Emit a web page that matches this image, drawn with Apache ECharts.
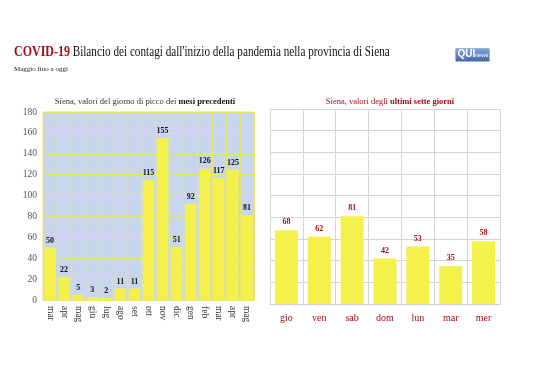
<!DOCTYPE html>
<html>
<head>
<meta charset="utf-8">
<script src="https://cdn.jsdelivr.net/npm/echarts@6/dist/echarts.min.js"></script>
<style>html,body{margin:0;padding:0;background:#fff;}#c{width:538px;height:380px;}</style>
</head>
<body>
<div id="c"></div>
<script>
var monthLabels = ["mar","apr","mag","giu","lug","ago","set","ott","nov","dic","gen","feb","mar","apr","mag"];
var monthValues = [50,22,5,3,2,11,11,115,155,51,92,126,117,125,81];
var dayLabels = ["gio","ven","sab","dom","lun","mar","mer"];
var dayValues = [68,62,81,42,53,35,58];
var yTicks = {min:0, max:180, interval:20};

var serif = "'Liberation Serif', 'DejaVu Serif', serif";
var red = '#a50d12';
var yellow = '#f4f04c';
var ygrid = '#e9e46a';

var monthKeys = monthLabels.map(function(m,i){return m+'#'+i;});

var chart = echarts.init(document.getElementById('c'), null, {renderer:'canvas'});
chart.setOption({
  animation:false,
  backgroundColor:'#fff',
  title:[
    {text:'Maggio fino a oggi', left:9, top:61, textStyle:{fontFamily:serif,fontSize:7,fontWeight:'normal',color:'#222'}},
    {text:'Siena, valori del giorno di picco dei {b|mesi precedenti}', left:140, top:92, textAlign:'center',
     textStyle:{fontFamily:serif,fontSize:8.5,fontWeight:'normal',color:'#333',
       rich:{b:{fontFamily:serif,fontSize:8.5,fontWeight:'bold',color:'#111'}}}},
    {text:'Siena, valori degli {b|ultimi sette giorni}', left:385, top:92, textAlign:'center',
     textStyle:{fontFamily:serif,fontSize:8.5,fontWeight:'normal',color:red,
       rich:{b:{fontFamily:serif,fontSize:8.5,fontWeight:'bold',color:red}}}}
  ],
  graphic:[
    {type:'text', x:14, y:45, scaleX:0.8, style:{
      text:'{a|COVID-19} {b|Bilancio dei contagi dall\'inizio della pandemia nella provincia di Siena}',
      rich:{a:{fontFamily:serif,fontSize:15,fontWeight:'bold',fill:red,color:red},
            b:{fontFamily:serif,fontSize:14,fontWeight:'normal',fill:'#111',color:'#111'}}}},
    {type:'group', left:455, top:48, children:[
      {type:'rect', shape:{x:0,y:0,width:34,height:13,r:1},
       style:{fill:new echarts.graphic.LinearGradient(0,0,0,1,[{offset:0,color:'#8aa6d6'},{offset:1,color:'#3f63a6'}]),stroke:'#9fb3d8'}},
      {type:'text', left:2, top:1, style:{text:'QUI',fill:'#fff',font:'bold 10px Arial'}},
      {type:'text', left:19, top:4, style:{text:'news',fill:'#fff',font:'6px Arial'}}
    ]}
  ],
  grid:[
    {left:43, top:112, width:211, height:188, show:true, backgroundColor:'#c7d5ef', borderColor:ygrid, borderWidth:1},
    {left:270, top:109, width:230, height:195, show:false}
  ],
  xAxis:[
    {type:'category', gridIndex:0, data:monthKeys,
     axisLine:{show:true,lineStyle:{color:ygrid}}, axisTick:{show:false},
     splitLine:{show:true,interval:0,lineStyle:{color:ygrid,width:1.2}},
     axisLabel:{rotate:-90, interval:0, fontFamily:serif, fontSize:9.5, color:'#333', margin:6,
       formatter:function(v){return v.split('#')[0];}}},
    {type:'category', gridIndex:1, data:dayLabels,
     axisLine:{show:true,lineStyle:{color:'#cfcfcf'}}, axisTick:{show:false},
     splitLine:{show:true,interval:0,lineStyle:{color:'#d4d4d4',width:1}},
     axisLabel:{interval:0, fontFamily:serif, fontSize:10, color:red, margin:9}}
  ],
  yAxis:[
    {type:'value', gridIndex:0, min:yTicks.min, max:yTicks.max, interval:yTicks.interval,
     axisLine:{show:false}, axisTick:{show:false},
     splitLine:{show:true,lineStyle:{color:ygrid,width:1.2}},
     axisLabel:{fontFamily:serif, fontSize:9.5, color:'#555', margin:6}},
    {type:'value', gridIndex:1, min:yTicks.min, max:yTicks.max, interval:yTicks.interval,
     axisLine:{show:true,lineStyle:{color:'#d4d4d4'}}, axisTick:{show:false},
     splitLine:{show:true,lineStyle:{color:'#d4d4d4',width:1}},
     axisLabel:{show:false}}
  ],
  series:[
    {type:'bar', xAxisIndex:0, yAxisIndex:0, data:monthValues, barCategoryGap:'18%',
     itemStyle:{color:yellow},
     label:{show:true, position:'top', distance:3, fontFamily:serif, fontSize:8, fontWeight:'bold', color:'#111'}},
    {type:'bar', xAxisIndex:1, yAxisIndex:1, data:dayValues, barCategoryGap:'30%',
     itemStyle:{color:yellow},
     label:{show:true, position:'top', distance:4, fontFamily:serif, fontSize:8, fontWeight:'bold', color:red}}
  ]
});
</script>
</body>
</html>
